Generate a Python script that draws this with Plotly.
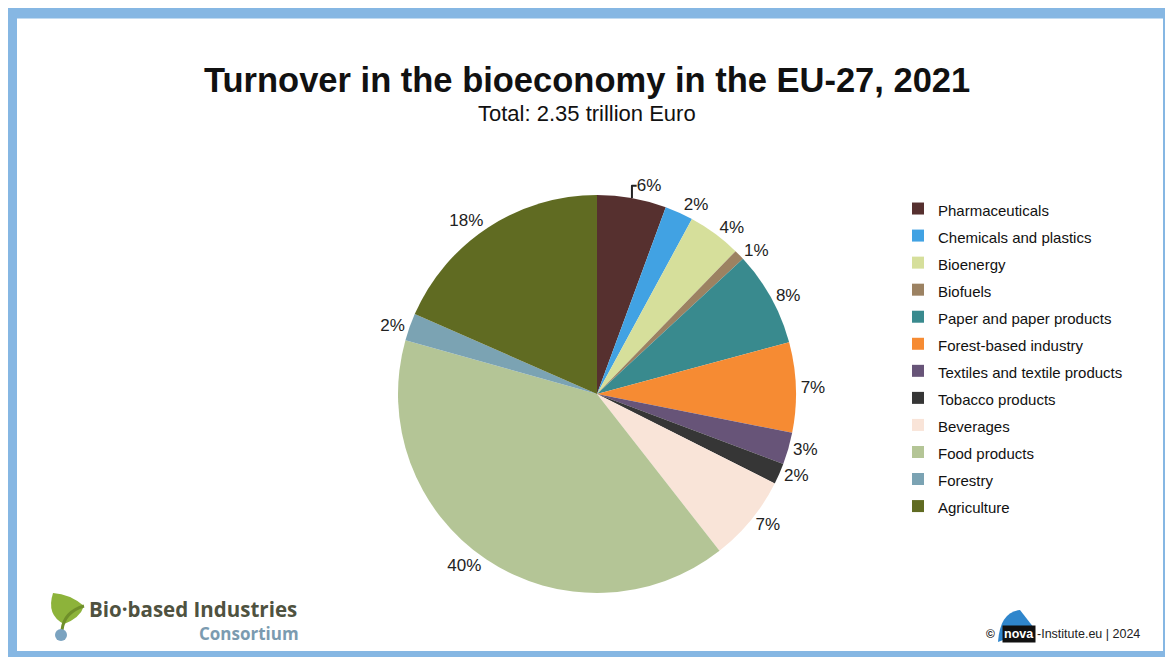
import plotly.graph_objects as go

# the page body keeps an 8px margin, so the figure is drawn 8px in from the corner
OFF = 8
W, H = 1173 - OFF, 657 - OFF

# turnover in billion Euro (total 2.35 trillion)
sectors = ["Pharmaceuticals", "Chemicals and plastics", "Bioenergy", "Biofuels",
           "Paper and paper products", "Forest-based industry",
           "Textiles and textile products", "Tobacco products", "Beverages",
           "Food products", "Forestry", "Agriculture"]
turnover = [132, 54, 102, 20, 181, 172, 61, 40, 165, 938, 52, 433]
colors = ["#56302f", "#41a2e3", "#d6df9b", "#9c8262", "#398a8e", "#f68b33",
          "#675478", "#363636", "#f9e4d8", "#b4c596", "#7ba3b3", "#606b22"]


def px(x):
    # screen pixel -> paper fraction
    return (x - OFF) / W


def py(y):
    return 1 - (y - OFF) / H


fig = go.Figure(go.Pie(
    labels=["<span style='font-size:15px'>%s</span>" % s for s in sectors],
    values=turnover,
    sort=False,
    direction="clockwise",
    rotation=0,
    marker=dict(colors=colors, line=dict(width=0)),
    texttemplate="%{percent:.0%}",
    textposition="outside",
    textfont=dict(size=17, color="#222222"),
    hoverinfo="label+value+percent",
    domain=dict(x=[px(397), px(797)], y=[py(593), py(195)]),
))

fig.update_layout(
    width=W, height=H,
    margin=dict(l=0, r=0, t=0, b=0),
    paper_bgcolor="white",
    font=dict(family="Liberation Sans, Arial, sans-serif", color="#111111"),
    showlegend=True,
    legend=dict(x=px(898), y=py(190), xanchor="left", yanchor="top",
                font=dict(size=18.5, color="#111111"),
                bgcolor="rgba(0,0,0,0)"),
)

# title block
fig.add_annotation(x=px(587), y=py(80), xref="paper", yref="paper", showarrow=False,
                   yanchor="middle",
                   text="<b>Turnover in the bioeconomy in the EU-27, 2021</b>",
                   font=dict(size=34.5, color="#111111"))
fig.add_annotation(x=px(587), y=py(113), xref="paper", yref="paper", showarrow=False,
                   yanchor="middle", text="Total: 2.35 trillion Euro",
                   font=dict(size=22, color="#111111"))

# blue frame
fig.add_shape(type="rect", xref="paper", yref="paper",
              x0=px(11.5), x1=px(1168.5), y0=py(13), y1=py(656.5),
              line=dict(color="#86b7e3", width=11), layer="above")

# Bio-based Industries Consortium logo
fig.add_shape(type="path", xref="paper", yref="paper",
              path="M %f %f Q %f %f %f %f Q %f %f %f %f Q %f %f %f %f Z" % (
                  px(53), py(593), px(46), py(615), px(64), py(624),
                  px(80), py(618), px(84), py(606),
                  px(70), py(594), px(53), py(593)),
              fillcolor="#8db33a", line=dict(width=0))
fig.add_shape(type="path", xref="paper", yref="paper",
              path="M %f %f Q %f %f %f %f" % (
                  px(84), py(606), px(64), py(612), px(62), py(630)),
              line=dict(color="#6f8f2a", width=3))
fig.add_shape(type="circle", xref="paper", yref="paper",
              x0=px(55), x1=px(67), y0=py(641), y1=py(629),
              fillcolor="#7ba3c0", line=dict(width=0))
fig.add_annotation(x=px(87), y=py(609), xref="paper", yref="paper", showarrow=False,
                   xanchor="left", yanchor="middle", text="<b>Bio·based Industries</b>",
                   font=dict(size=20.5, color="#4f5240", family="Open Sans, sans-serif"))
fig.add_annotation(x=px(301), y=py(633), xref="paper", yref="paper", showarrow=False,
                   xanchor="right", yanchor="middle", text="<b>Consortium</b>",
                   font=dict(size=17, color="#7b9bb0", family="Open Sans, sans-serif"))

# nova-Institute credit
fig.add_shape(type="path", xref="paper", yref="paper",
              path="M %f %f Q %f %f %f %f L %f %f Z" % (
                  px(998), py(642), px(1000), py(612), px(1020), py(610),
                  px(1034), py(628)),
              fillcolor="#2f86cc", line=dict(width=0))
fig.add_annotation(x=px(984), y=py(634), xref="paper", yref="paper", showarrow=False,
                   xanchor="left", yanchor="middle", text="<b>©</b>",
                   font=dict(size=12, color="#222222"))
fig.add_annotation(x=px(1002), y=py(634), xref="paper", yref="paper", showarrow=False,
                   xanchor="left", yanchor="middle", text="<b>nova</b>", bgcolor="#111111",
                   borderpad=1, font=dict(size=12.5, color="white"))
fig.add_annotation(x=px(1035), y=py(634), xref="paper", yref="paper", showarrow=False,
                   xanchor="left", yanchor="middle", text="-Institute.eu | 2024",
                   font=dict(size=12.5, color="#222222"))

fig.write_html("out.html")
